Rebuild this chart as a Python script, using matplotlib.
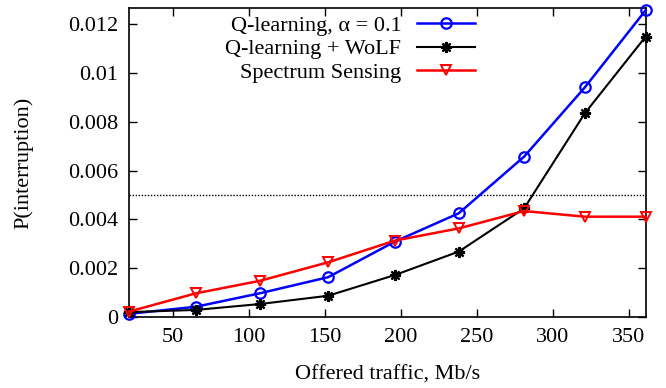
import numpy as np
import matplotlib.pyplot as plt
from matplotlib.ticker import FuncFormatter

plt.rcParams['font.family'] = ['Liberation Serif', 'DejaVu Serif']

# data
traffic = [21, 65, 107, 152, 196, 238, 281, 321, 361]
q_learning = [0.00013, 0.00042, 0.00097, 0.00163, 0.00309, 0.00425, 0.00657, 0.00941, 0.01257]
q_wolf = [0.00020, 0.00029, 0.00053, 0.00087, 0.00172, 0.00268, 0.00445, 0.00835, 0.01149]
sensing = [0.00022, 0.00097, 0.00148, 0.00224, 0.00313, 0.00363, 0.00434, 0.00411, 0.00411]
threshold = 0.005

x_ticks = [50, 100, 150, 200, 250, 300, 350]
y_ticks = [0, 0.002, 0.004, 0.006, 0.008, 0.01, 0.012]

fz = 16

fig = plt.figure(figsize=(6.66, 3.88), dpi=100)
ax = fig.add_axes([0.1937, 0.183, 0.9695 - 0.1937, 0.9794 - 0.183])

ax.axhline(threshold, color='k', linestyle=(0, (1, 1.2)), lw=1.0, zorder=1)

ax.plot(traffic, q_learning, color='#0000ff', lw=1.8, marker='o', ms=7.5,
        mfc='none', mew=1.6, label='Q-learning, α = 0.1', clip_on=False, zorder=3)
ax.plot(traffic, q_wolf, color='k', lw=1.5, marker=(8, 2, 0), ms=8,
        mew=1.6, label='Q-learning + WoLF', clip_on=False, zorder=3)
ax.plot(traffic, sensing, color='#ff0000', lw=1.8, marker='v', ms=7.5,
        mfc='none', mew=1.4, label='Spectrum Sensing', clip_on=False, zorder=3)

ax.set_xlim(21, 361)
ax.set_ylim(0, 0.01266)
ax.set_xticks(x_ticks)
ax.set_yticks(y_ticks)
ax.yaxis.set_major_formatter(FuncFormatter(lambda v, p: '%g' % v))

ax.tick_params(direction='in', length=6, width=1, top=True, right=True,
               labelsize=fz, pad=8)
for s in ax.spines.values():
    s.set_linewidth(1.2)

ax.set_xlabel('Offered traffic, Mb/s', fontsize=fz, labelpad=13)
ax.set_ylabel('P(interruption)', fontsize=fz, labelpad=25)

ax.legend(loc='upper right', bbox_to_anchor=(0.669, 0.976), frameon=False,
          markerfirst=False, fontsize=fz, handlelength=2.6, handletextpad=0.7,
          labelspacing=0.13, borderaxespad=0, borderpad=0)

fig.savefig('out.png', dpi=100)
